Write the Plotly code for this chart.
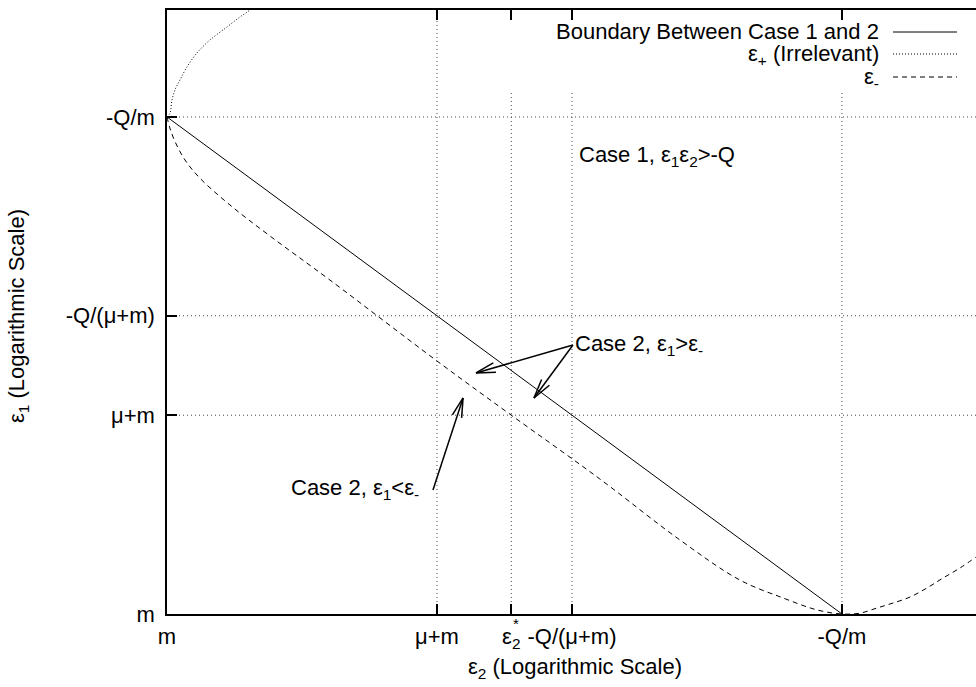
import numpy as np
import plotly.graph_objects as go

# ---- values (m = 1, -Q = 1e5, so mu+m = 100, -Q/(mu+m) = 1000) ----
m_val = 1
mu_m = 100
e2_star = 355
Q_over_mu_m = 1000
Q_over_m = 1e5

x_tick_vals = [m_val, mu_m, e2_star, Q_over_mu_m, Q_over_m]
x_tick_text = ["m", "μ+m", "ε<sub>2</sub>", "-Q/(μ+m)", "-Q/m"]
y_tick_vals = [m_val, mu_m, Q_over_mu_m, Q_over_m]
y_tick_text = ["m", "μ+m", "-Q/(μ+m)", "-Q/m"]

boundary_x = [1, 1e5]
boundary_y = [1e5, 1]

eps_plus_x = [1, 1.052, 1.089, 1.146, 1.247, 1.406, 1.667, 2.084, 2.780, 3.475, 4.121, 5.06]
eps_plus_y = [1e5, 1.096e5, 1.483e5, 1.871e5, 2.355e5, 3.184e5, 4.406e5, 5.957e5,
              8.035e5, 1.014e6, 1.191e6, 1.503e6]

eps_minus_x = [1, 1.05, 1.15, 1.36, 1.75, 2.93, 5.79, 16.1, 100, 355, 1610, 6310,
               17500, 36600, 65300, 1e5, 1.36e5, 1.82e5, 2.39e5, 3.19e5, 4.27e5,
               5.6e5, 7.48e5, 9.84e5]
eps_minus_y = [1e5, 77500, 56000, 36900, 24300, 13000, 6350, 2290, 351, 100, 22.8, 5.55,
               2.2, 1.45, 1.1, 1, 1.02, 1.15, 1.29, 1.48, 1.83, 2.3, 2.9, 3.74]

# annotation arrows (tail -> head), data coordinates
arrow_tails = [(1017, 508), (1017, 508), (93.4, 17.7)]
arrow_heads = [(194.5, 266), (523, 149), (156, 149)]

# ---- geometry ----
W, H = 976, 687
L, R, T, B = 167, 0, 10, 73
PW, PH = W - L - R, H - T - B
x_range = [0, 5.993]
y_range = [0, 6.076]
FONT = "Liberation Sans, Arial, Helvetica, sans-serif"
FS = 22


def to_px(xv, yv):
    px = L + (np.log10(xv) - x_range[0]) / (x_range[1] - x_range[0]) * PW
    py = T + (y_range[1] - np.log10(yv)) / (y_range[1] - y_range[0]) * PH
    return px, py


def to_data(px, py):
    xv = 10 ** (x_range[0] + (px - L) / PW * (x_range[1] - x_range[0]))
    yv = 10 ** (y_range[1] - (py - T) / PH * (y_range[1] - y_range[0]))
    return xv, yv


def pxx(px):
    return (px - L) / PW


def pyy(py):
    return (T + PH - py) / PH


fig = go.Figure()

fig.add_trace(go.Scatter(x=boundary_x, y=boundary_y, mode="lines",
                         line=dict(color="black", width=1), showlegend=False))
fig.add_trace(go.Scatter(x=eps_plus_x, y=eps_plus_y, mode="lines",
                         line=dict(color="black", width=1, dash="1px,2px"),
                         line_shape="spline", showlegend=False))
fig.add_trace(go.Scatter(x=eps_minus_x, y=eps_minus_y, mode="lines",
                         line=dict(color="black", width=1, dash="5px,4px"),
                         line_shape="spline", showlegend=False))

# arrows
head_len, head_ang = 20, np.radians(14)
for (tx, ty), (hx, hy) in zip(arrow_tails, arrow_heads):
    tpx, tpy = to_px(tx, ty)
    hpx, hpy = to_px(hx, hy)
    ang = np.arctan2(tpy - hpy, tpx - hpx)
    fig.add_trace(go.Scatter(x=[tx, hx], y=[ty, hy], mode="lines",
                             line=dict(color="black", width=1.5),
                             showlegend=False, hoverinfo="skip"))
    for s in (-1, 1):
        a = ang + s * head_ang
        ex, ey = to_data(hpx + head_len * np.cos(a), hpy + head_len * np.sin(a))
        fig.add_trace(go.Scatter(x=[hx, ex], y=[hy, ey], mode="lines",
                                 line=dict(color="black", width=1.5),
                                 showlegend=False, hoverinfo="skip"))

# grid lines
shapes = []
grid_line = dict(color="#444", width=1, dash="1px,3px")
legend_bottom = pyy(90)
for xv in x_tick_vals[1:]:
    top = 1 if xv == mu_m else legend_bottom
    shapes.append(dict(type="line", xref="x", yref="paper", x0=xv, x1=xv, y0=0, y1=top,
                       line=grid_line, layer="below"))
for yv in y_tick_vals[1:]:
    shapes.append(dict(type="line", xref="paper", yref="y", x0=0, x1=1, y0=yv, y1=yv,
                       line=grid_line, layer="below"))

# manual legend (gnuplot style: text right, sample to the right)
legend_rows = [("Boundary Between Case 1 and 2", 32, None),
               ("ε<sub>+</sub> (Irrelevant)", 54, "1px,2px"),
               ("ε<sub>-</sub>", 77, "5px,4px")]
annotations = []
for text, ypx, dash in legend_rows:
    ln = dict(color="black", width=1)
    if dash:
        ln["dash"] = dash
    shapes.append(dict(type="line", xref="paper", yref="paper", x0=pxx(893), x1=pxx(957),
                       y0=pyy(ypx), y1=pyy(ypx), line=ln))


def ann(text, px, py, xanchor="left", yanchor="middle", size=FS, angle=0):
    annotations.append(dict(text=text, xref="paper", yref="paper", x=pxx(px), y=pyy(py),
                            xanchor=xanchor, yanchor=yanchor, showarrow=False,
                            textangle=angle, font=dict(family=FONT, size=size, color="black")))


ann("Boundary Between Case 1 and 2", 881, 31, xanchor="right")
ann("ε<sub>+</sub> (Irrelevant)", 881, 55, xanchor="right")
ann("ε<sub>-</sub>", 881, 78, xanchor="right")

ann("Case 1, ε<sub>1</sub>ε<sub>2</sub>>-Q", 577, 156)
ann("Case 2, ε<sub>1</sub>>ε<sub>-</sub>", 573, 345)
ann("Case 2, ε<sub>1</sub>&lt;ε<sub>-</sub>", 289, 489)

ann("*", 516, 623, xanchor="center", size=15)
ann("ε<sub>2</sub> (Logarithmic Scale)", 575, 668, xanchor="center")
ann("ε<sub>1</sub> (Logarithmic Scale)", 18, 316, xanchor="center", angle=-90)

axis_common = dict(type="log", showgrid=False, zeroline=False, showline=True,
                   linecolor="black", linewidth=1.5, ticks="inside", ticklen=10,
                   tickwidth=1.5, tickcolor="black",
                   tickfont=dict(family=FONT, size=FS, color="black"))

fig.update_layout(
    width=W, height=H,
    margin=dict(l=L, r=R, t=T, b=B, pad=0),
    paper_bgcolor="white", plot_bgcolor="white",
    xaxis=dict(range=x_range, tickvals=x_tick_vals, ticktext=x_tick_text,
               mirror="ticks", ticklabelstandoff=2, **axis_common),
    yaxis=dict(range=y_range, tickvals=y_tick_vals, ticktext=y_tick_text,
               mirror=False, ticklabelstandoff=6, **axis_common),
    shapes=shapes, annotations=annotations,
    font=dict(family=FONT, size=FS, color="black"),
    showlegend=False,
    hovermode=False,
)

fig.write_html("out.html",
               config={"displayModeBar": False},
               post_script="document.body.style.margin='0';document.body.style.overflow='hidden';")
